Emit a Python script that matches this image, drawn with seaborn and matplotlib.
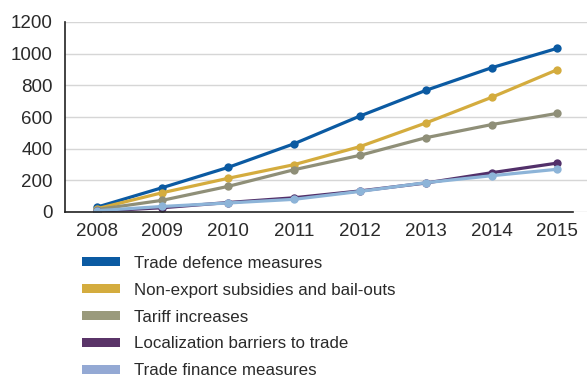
import numpy as np
import pandas as pd
import matplotlib
matplotlib.use("Agg")
import matplotlib.pyplot as plt
from matplotlib.patches import Patch
import seaborn as sns

# %% Data
years = [2008, 2009, 2010, 2011, 2012, 2013, 2014, 2015]
trade_defence = [30, 154, 282, 431, 606, 768, 911, 1034]
non_export_subsidies = [20, 122, 213, 299, 413, 562, 724, 899]
tariff_increases = [15, 74, 162, 267, 358, 469, 552, 623]
localization_barriers = [5, 27, 60, 90, 133, 183, 248, 309]
trade_finance = [8, 35, 57, 80, 130, 185, 229, 270]

series_names = [
    "Trade defence measures",
    "Non-export subsidies and bail-outs",
    "Tariff increases",
    "Localization barriers to trade",
    "Trade finance measures",
]
series_values = [trade_defence, non_export_subsidies, tariff_increases,
                 localization_barriers, trade_finance]
line_colors = ["#0b5aa2", "#d4ac3e", "#8f8f78", "#52306a", "#8db4d8"]
legend_colors = ["#0b5aa2", "#d4ac3e", "#9a9a7c", "#5a3468", "#94a9d4"]

df = pd.DataFrame({
    "year": np.tile(years, len(series_names)),
    "value": np.concatenate(series_values),
    "series": np.repeat(series_names, len(years)),
})

# %% Plot
sns.set_style("white")
plt.rcParams["font.family"] = ["Liberation Sans", "DejaVu Sans"]
text_col = "#2a2a2a"

fig = plt.figure(figsize=(5.87, 3.76), dpi=100)
ax = fig.add_axes([65 / 587, 1 - 212 / 376, 522 / 587, 190 / 376])

sns.lineplot(data=df, x="year", y="value", hue="series", hue_order=series_names,
             palette=line_colors, marker="o", markersize=6, markeredgewidth=0,
             linewidth=2.3, legend=False, ax=ax)

ax.set_xlim(2007.52, 2015.45)
ax.set_ylim(0, 1200)
ax.set_yticks(range(0, 1201, 200))
ax.set_xticks(years)
ax.yaxis.grid(True, color="#d6d6d6", linewidth=1)
ax.set_axisbelow(True)
ax.set_xlabel("")
ax.set_ylabel("")
for s in ["top", "right"]:
    ax.spines[s].set_visible(False)
for s in ["left", "bottom"]:
    ax.spines[s].set_color("#222222")
    ax.spines[s].set_linewidth(1.2)
ax.spines["bottom"].set_bounds(2007.52, 2015.24)
ax.tick_params(axis="both", length=0, labelsize=13.5, colors=text_col, pad=8)
ax.tick_params(axis="y", pad=9)

handles = [Patch(facecolor=c, edgecolor="none") for c in legend_colors]
fig.legend(handles, series_names, loc="upper left", bbox_to_anchor=(75 / 587, 1 - 249 / 376),
           frameon=False, fontsize=12.2, labelcolor=text_col, handlelength=2.25,
           handleheight=0.47, handletextpad=0.85, labelspacing=0.7, borderaxespad=0)

fig.savefig("out.png", dpi=100)
